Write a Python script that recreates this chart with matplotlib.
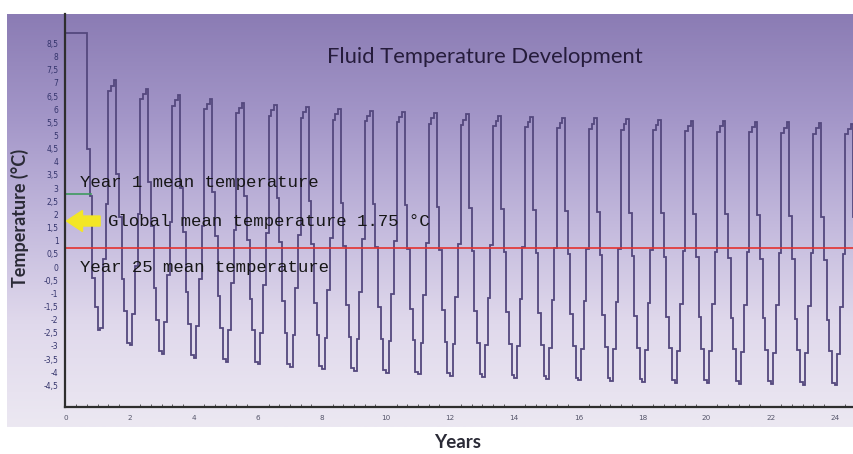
import numpy as np
import matplotlib
matplotlib.use("Agg")
import matplotlib.pyplot as plt
from matplotlib.colors import LinearSegmentedColormap
from matplotlib.patches import FancyArrow

# Monthly fluid temperature (Jan..Dec) for each simulated year
fluid_temp = [
    [8.9, 8.9, 8.9, 8.9, 8.9, 8.9, 8.9, 8.9, 4.5, 2.7, -0.4, -1.5],
    [-2.4, -2.3, 0.3, 2.4, 6.7, 6.9, 7.1, 3.55, 1.9, -0.47, -1.67, -2.87],
    [-2.97, -1.77, 0.03, 2.03, 6.37, 6.57, 6.77, 3.22, 1.57, -0.8, -2.0, -3.2],
    [-3.3, -2.1, -0.3, 1.7, 6.14, 6.34, 6.54, 2.99, 1.34, -0.95, -2.15, -3.35],
    [-3.45, -2.25, -0.45, 1.55, 5.99, 6.19, 6.39, 2.84, 1.19, -1.1, -2.3, -3.5],
    [-3.6, -2.4, -0.6, 1.4, 5.84, 6.04, 6.24, 2.69, 1.04, -1.2, -2.4, -3.6],
    [-3.7, -2.5, -0.7, 1.3, 5.76, 5.96, 6.16, 2.61, 0.96, -1.3, -2.5, -3.7],
    [-3.8, -2.6, -0.8, 1.2, 5.68, 5.88, 6.08, 2.53, 0.88, -1.38, -2.58, -3.78],
    [-3.88, -2.68, -0.88, 1.12, 5.6, 5.8, 6.0, 2.45, 0.8, -1.45, -2.65, -3.85],
    [-3.95, -2.75, -0.95, 1.05, 5.55, 5.75, 5.95, 2.4, 0.75, -1.52, -2.72, -3.92],
    [-4.02, -2.82, -1.02, 0.98, 5.5, 5.7, 5.9, 2.35, 0.7, -1.58, -2.78, -3.98],
    [-4.08, -2.88, -1.08, 0.92, 5.45, 5.65, 5.85, 2.3, 0.65, -1.63, -2.83, -4.03],
    [-4.13, -2.93, -1.13, 0.87, 5.4, 5.6, 5.8, 2.25, 0.6, -1.68, -2.88, -4.08],
    [-4.18, -2.98, -1.18, 0.82, 5.36, 5.56, 5.76, 2.21, 0.56, -1.72, -2.92, -4.12],
    [-4.22, -3.02, -1.22, 0.78, 5.32, 5.52, 5.72, 2.17, 0.52, -1.76, -2.96, -4.16],
    [-4.26, -3.06, -1.26, 0.74, 5.28, 5.48, 5.68, 2.13, 0.48, -1.8, -3.0, -4.2],
    [-4.3, -3.1, -1.3, 0.7, 5.25, 5.45, 5.65, 2.1, 0.45, -1.83, -3.03, -4.23],
    [-4.33, -3.13, -1.33, 0.67, 5.22, 5.42, 5.62, 2.07, 0.42, -1.86, -3.06, -4.26],
    [-4.36, -3.16, -1.36, 0.64, 5.2, 5.4, 5.6, 2.05, 0.4, -1.89, -3.09, -4.29],
    [-4.39, -3.19, -1.39, 0.61, 5.17, 5.37, 5.57, 2.02, 0.37, -1.91, -3.11, -4.31],
    [-4.41, -3.21, -1.41, 0.59, 5.15, 5.35, 5.55, 2.0, 0.35, -1.93, -3.13, -4.33],
    [-4.43, -3.23, -1.43, 0.57, 5.12, 5.32, 5.52, 1.97, 0.32, -1.95, -3.15, -4.35],
    [-4.45, -3.25, -1.45, 0.55, 5.1, 5.3, 5.5, 1.95, 0.3, -1.97, -3.17, -4.37],
    [-4.47, -3.27, -1.47, 0.53, 5.07, 5.27, 5.47, 1.92, 0.27, -2.0, -3.2, -4.4],
    [-4.5, -3.3, -1.5, 0.5, 5.05, 5.25, 5.45, 1.9, 0.25, -2.02, -3.22, -4.42],
]

year1_mean = 2.78
year1_span = [0.0, 0.8]
global_mean = 1.75
year25_mean = 0.73

x_ticks = [0, 2, 4, 6, 8, 10, 12, 14, 16, 18, 20, 22, 24]
y_ticks = [-4.5, -4, -3.5, -3, -2.5, -2, -1.5, -1, -0.5, 0, 0.5, 1, 1.5, 2, 2.5,
           3, 3.5, 4, 4.5, 5, 5.5, 6, 6.5, 7, 7.5, 8, 8.5]

W, H = 854, 454
fig = plt.figure(figsize=(W / 100, H / 100), dpi=100)
fig.patch.set_facecolor("white")

# purple gradient panel behind everything
bg = fig.add_axes([7 / W, 1 - 427 / H, 1 - 7 / W, (427 - 14) / H], zorder=0)
cmap = LinearSegmentedColormap.from_list(
    "panel", ["#8b7cb4", "#a396c8", "#c2b8dc", "#e0d9ec", "#ece8f2"])
bg.imshow(np.linspace(0, 1, 256).reshape(-1, 1), aspect="auto", cmap=cmap,
          extent=[0, 1, 0, 1])
bg.axis("off")

ax = fig.add_axes([65.5 / W, 1 - 407 / H, 1 - 65.5 / W, (407 - 14) / H], zorder=1)
ax.patch.set_alpha(0)

vals = np.array(fluid_temp).ravel()
edges = np.arange(len(vals) + 1) / 12.0
ax.stairs(vals, edges, baseline=None, color="#54487e", lw=1.3)

ax.axhline(year25_mean, color="#e4322f", lw=1.2)
ax.plot(year1_span, [year1_mean, year1_mean], color="#3f9a5e", lw=1.2)

ax.add_patch(FancyArrow(1.08, global_mean, -1.05, 0, width=0.38, head_width=0.8,
                        head_length=0.5, length_includes_head=True,
                        color="#f3e626", clip_on=False, zorder=5))

mono = "Liberation Mono"
ax.text(0.45, 3.2, "Year 1 mean temperature", family=mono, fontsize=12.5,
        color="#161616", va="center")
ax.text(1.33, global_mean, "Global mean temperature 1.75 °C", family=mono,
        fontsize=12.5, color="#161616", va="center")
ax.text(0.45, 0.0, "Year 25 mean temperature", family=mono, fontsize=12.5,
        color="#161616", va="center")

ax.set_xlim(0, 24.6)
ax.set_ylim(-5.32, 9.62)
ax.set_xticks(x_ticks)
ax.set_xticks(np.arange(0, 24.6, 1 / 3), minor=True)
ax.set_yticks(y_ticks)
ax.set_yticklabels([("%g" % v).replace(".", ",") for v in y_ticks])
ax.tick_params(axis="y", labelsize=5.5, labelcolor="#34346c", length=0, pad=5)
ax.tick_params(axis="x", labelsize=5.2, labelcolor="#55556a", length=0, pad=6)
ax.tick_params(axis="x", which="minor", length=2, color="#444444", direction="in")

for s in ["top", "right"]:
    ax.spines[s].set_visible(False)
for s in ["left", "bottom"]:
    ax.spines[s].set_color("#2e2e2e")
    ax.spines[s].set_linewidth(1.6)

fig.text(485 / W, 1 - 57 / H, "Fluid Temperature Development", family="Lato",
         fontsize=15.8, color="#261c3c", ha="center", va="center")
fig.text(20 / W, 1 - 218 / H, "Temperature (°C)", family="Lato", fontweight="bold",
         fontsize=13, color="#2a2a36", rotation=90, ha="center", va="center")
fig.text(458 / W, 1 - 443 / H, "Years", family="Lato", fontweight="bold",
         fontsize=13.5, color="#2a2a36", ha="center", va="center")

fig.savefig("out.png", dpi=100)
